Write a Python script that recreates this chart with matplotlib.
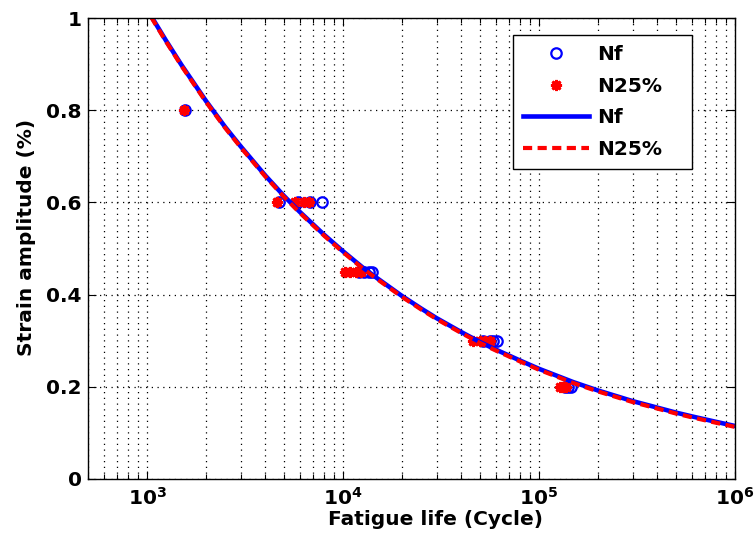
import matplotlib
matplotlib.use('Agg')
import matplotlib.pyplot as plt
from matplotlib.ticker import LogLocator, FixedLocator, FuncFormatter, NullFormatter

plt.rcParams['font.family'] = ['DejaVu Sans']
plt.rcParams['font.weight'] = 'bold'
plt.rcParams['mathtext.default'] = 'regular'

# ---- data ----
nf_life = [1560, 4700, 5900, 6800, 7800, 12000, 12800, 13500, 14000,
           52000, 56000, 58000, 61000, 135000, 140000, 145000]
nf_strain = [0.8, 0.6, 0.6, 0.6, 0.6, 0.45, 0.45, 0.45, 0.45,
             0.3, 0.3, 0.3, 0.3, 0.2, 0.2, 0.2]

n25_life = [1540, 4600, 5700, 6300, 6700, 10200, 10900, 11600, 12300,
            46000, 50000, 53000, 56000, 128000, 132000, 137000]
n25_strain = [0.8, 0.6, 0.6, 0.6, 0.6, 0.45, 0.45, 0.45, 0.45,
              0.3, 0.3, 0.3, 0.3, 0.2, 0.2, 0.2]

fit_life = [1050, 1250, 1500, 2000, 2500, 3000, 4000, 5000, 6000, 8000,
            10000, 12500, 15000, 20000, 25000, 30000, 40000, 50000, 60000, 80000,
            100000, 150000, 200000, 300000, 400000, 500000, 600000, 800000, 1000000]
nf_fit = [1.004, 0.951, 0.898, 0.820, 0.764, 0.722, 0.659, 0.614, 0.580, 0.530,
          0.494, 0.460, 0.435, 0.397, 0.370, 0.349, 0.319, 0.297, 0.281, 0.257,
          0.239, 0.210, 0.192, 0.169, 0.155, 0.144, 0.136, 0.124, 0.115]
n25_fit = [1.002, 0.949, 0.896, 0.818, 0.762, 0.720, 0.657, 0.612, 0.578, 0.528,
           0.492, 0.458, 0.433, 0.395, 0.368, 0.347, 0.317, 0.295, 0.279, 0.255,
           0.237, 0.208, 0.190, 0.167, 0.153, 0.142, 0.134, 0.122, 0.113]

y_ticks = [0, 0.2, 0.4, 0.6, 0.8, 1]
y_ticklabels = ['0', '0.2', '0.4', '0.6', '0.8', '1']

FS = 14.5

fig = plt.figure(figsize=(7.54, 5.42), dpi=100)
ax = fig.add_axes([88 / 754, 1 - 479 / 542, 647 / 754, 461 / 542])

ax.plot(nf_life, nf_strain, ls='none', marker='o', mfc='none', mec='blue',
        ms=7.5, mew=1.6, label='Nf')
ax.plot(n25_life, n25_strain, ls='none', marker=(8, 2, 0), color='red',
        ms=8, mew=2.0, label='N25%')
ax.plot(fit_life, nf_fit, '-', color='blue', lw=3.3, label='Nf')
ax.plot(fit_life, n25_fit, '--', color='red', lw=3.0, dashes=(2.2, 1.3),
        label='N25%')

ax.set_xscale('log')
ax.set_xlim(500, 1e6)
ax.set_ylim(0, 1)
ax.xaxis.set_major_locator(LogLocator(base=10, numticks=10))
ax.xaxis.set_minor_locator(LogLocator(base=10, subs=range(2, 10), numticks=20))
ax.xaxis.set_minor_formatter(NullFormatter())
ax.yaxis.set_major_locator(FixedLocator(y_ticks))
ax.yaxis.set_major_formatter(FuncFormatter(
    lambda v, p: y_ticklabels[y_ticks.index(round(v, 1))] if round(v, 1) in y_ticks else ''))

gstyle = dict(color='black', lw=0.9, ls=(0, (1, 3.6)))
ax.grid(True, which='both', axis='x', **gstyle)
ax.grid(True, which='major', axis='y', **gstyle)

ax.tick_params(which='both', direction='in', top=True, right=True,
               labelsize=FS, width=0.8, color='black')
ax.tick_params(which='major', length=6)
ax.tick_params(which='minor', length=3.5)
ax.tick_params(axis='x', pad=6)
ax.tick_params(axis='y', pad=4.5)
for lab in ax.get_xticklabels() + ax.get_yticklabels():
    lab.set_fontweight('bold')
for sp in ax.spines.values():
    sp.set_color('black')
    sp.set_linewidth(1.0)

ax.set_xlabel('Fatigue life (Cycle)', fontsize=FS, fontweight='bold')
ax.set_ylabel('Strain amplitude (%)', fontsize=FS, fontweight='bold')
ax.xaxis.set_label_coords(0.537, -0.067)
ax.yaxis.set_label_coords(-0.081, 0.523)

leg = ax.legend(loc='upper left', bbox_to_anchor=(0.657, 0.670, 0.277, 0.293),
                mode='expand', borderaxespad=0, numpoints=1, fontsize=FS,
                handlelength=3.25, handletextpad=0.4, borderpad=0.5,
                labelspacing=0.62, fancybox=False, framealpha=1,
                prop={'weight': 'bold', 'size': FS})
leg.get_frame().set_edgecolor('black')
leg.get_frame().set_linewidth(1.0)

fig.savefig('out.png', dpi=100)
